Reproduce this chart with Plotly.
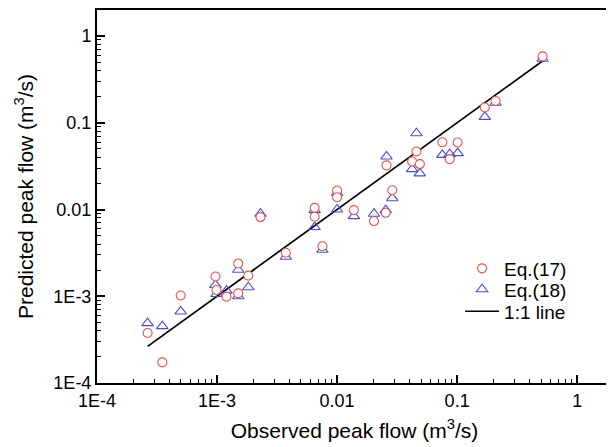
import plotly.graph_objects as go

# ── datos ─────────────────────────────────────────────────────────
observed = [2.64e-4, 3.5e-4, 4.98e-4, 9.7e-4, 9.9e-4, 1.2e-3, 1.5e-3, 1.5e-3,
            1.82e-3, 2.3e-3, 3.74e-3, 6.5e-3, 6.5e-3, 7.55e-3, 0.01, 0.01,
            0.0138, 0.0203, 0.0254, 0.0258, 0.0288, 0.0422, 0.0458, 0.0489,
            0.0753, 0.0867, 0.101, 0.170, 0.209, 0.515]

pred_eq17 = [3.77e-4, 1.73e-4, 1.02e-3, 1.69e-3, 1.18e-3, 9.9e-4, 2.39e-3, 1.08e-3,
             1.73e-3, 8.18e-3, 3.17e-3, 0.01045, 8.24e-3, 3.77e-3, 0.01656, 0.01387,
             9.84e-3, 7.36e-3, 9.16e-3, 0.0323, 0.01667, 0.0358, 0.0467, 0.0334,
             0.0596, 0.0381, 0.0592, 0.150, 0.178, 0.582]

pred_eq18 = [4.9e-4, 4.53e-4, 6.68e-4, 1.35e-3, 1.06e-3, 1.16e-3, 2.02e-3, 1.0e-3,
             1.27e-3, 8.93e-3, 2.85e-3, 9.84e-3, 6.28e-3, 3.43e-3, 0.0155, 0.01,
             8.39e-3, 8.93e-3, 9.84e-3, 0.0409, 0.0135, 0.0292, 0.0757, 0.0261,
             0.0427, 0.0435, 0.0447, 0.117, 0.170, 0.547]

tick_vals = [1e-4, 1e-3, 0.01, 0.1, 1]
tick_text = ["1E-4", "1E-3", "0.01", "0.1", "1"]

# ticks menores logarítmicos (2..9 por década)
minor_vals = [m * 10 ** e for e in range(-4, 1) for m in range(2, 10)]

FONT = "Liberation Sans, Arial, sans-serif"

line_x = [min(observed), max(observed)]

fig = go.Figure()
# orden de dibujo: línea, triángulos y círculos (con relleno blanco) encima
fig.add_trace(go.Scatter(
    x=line_x, y=line_x, mode="lines", name="1:1 line", legend="legend3",
    showlegend=True,
    line=dict(color="black", width=1.7)
))
fig.add_trace(go.Scatter(
    x=observed, y=pred_eq18, mode="markers", name="Eq.(18)", legend="legend2",
    showlegend=True,
    marker=dict(symbol="triangle-up-open", size=10, color="#4B4BD8", line=dict(width=1.1))
))
fig.add_trace(go.Scatter(
    x=observed, y=pred_eq17, mode="markers", name="Eq.(17)", legend="legend",
    showlegend=True,
    marker=dict(symbol="circle", size=9, color="white",
                line=dict(width=1.1, color="#E0564F"))
))

axis_common = dict(
    type="log",
    tickvals=tick_vals,
    ticktext=tick_text,
    ticks="inside",
    ticklen=8,
    tickwidth=1.5,
    tickcolor="black",
    showline=True,
    linecolor="black",
    linewidth=2,
    mirror=True,
    showgrid=False,
    zeroline=False,
    tickfont=dict(family=FONT, size=18, color="black"),
    minor=dict(ticks="inside", ticklen=4, tickwidth=1.2, tickcolor="black",
               tickvals=minor_vals, showgrid=False),
)

fig.update_xaxes(**axis_common, range=[-4, 0.29],
                 title=dict(text="Observed peak flow (m<sup>3</sup>/s)",
                            font=dict(family=FONT, size=21, color="black"),
                            standoff=14))
fig.update_yaxes(**axis_common, range=[-4, 0.3],
                 title=dict(text="Predicted peak flow (m<sup>3</sup>/s)",
                            font=dict(family=FONT, size=21, color="black"),
                            standoff=14))

# una leyenda por entrada para controlar el espaciado vertical
leg = dict(x=0.705, xanchor="left", yanchor="middle", itemwidth=34,
           bgcolor="rgba(0,0,0,0)", font=dict(family=FONT, size=19, color="black"))

# el body de la página añade 8px de margen: se descuenta aquí
fig.update_layout(
    width=606, height=439,
    margin=dict(l=89, r=2, t=0, b=64),
    plot_bgcolor="white",
    paper_bgcolor="white",
    font=dict(family=FONT, color="black"),
    showlegend=True,
    legend=dict(leg, y=0.307),
    legend2=dict(leg, y=0.251),
    legend3=dict(leg, y=0.192),
)

fig.write_html("out.html")
